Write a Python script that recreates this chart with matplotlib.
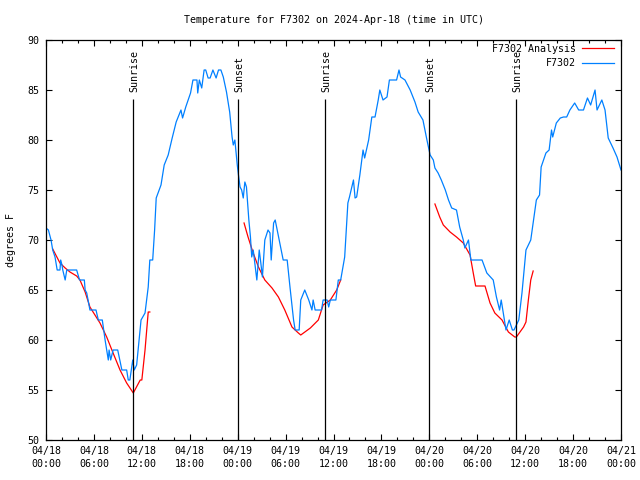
import matplotlib
matplotlib.use("Agg")
import matplotlib.pyplot as plt
import numpy as np

# ---- data (hours since 2024-04-18 00:00 UTC) ----
obs_hours = [0.0, 0.3, 0.63, 0.84, 1.13, 1.4, 1.75, 1.84, 2.0, 2.1, 2.4, 2.6, 3.84, 4.2, 4.8, 4.9, 5.1,
             5.5, 6.26, 6.55, 7.05, 7.4, 7.8, 7.9, 8.1, 8.4, 8.98, 9.5, 10.1, 10.3, 10.5, 10.86, 11.05,
             11.35, 11.6, 11.9, 12.4, 12.8, 13.0, 13.36, 13.6, 13.8, 14.4, 14.8, 15.3, 15.8, 16.3, 16.9,
             17.1, 17.5, 18.1, 18.4, 18.9, 19.0, 19.2, 19.5, 19.8, 20.0, 20.3, 20.55, 20.9, 21.3, 21.6,
             21.9, 22.2, 22.6, 23.0, 23.3, 23.45, 23.65, 23.95, 24.1, 24.3, 24.5, 24.7, 24.9, 25.1, 25.4,
             25.6, 25.76, 25.95, 26.4, 26.6, 26.7, 26.9, 27.1, 27.4, 27.8, 28.05, 28.2, 28.5, 28.7, 29.2,
             29.7, 30.2, 30.55, 31.0, 31.2, 31.7, 31.9, 32.4, 32.9, 33.3, 33.45, 33.7, 34.5, 34.7, 35.2,
             35.4, 35.6, 36.3, 36.6, 36.9, 37.4, 37.8, 38.0, 38.5, 38.7, 38.9, 39.3, 39.7, 39.9, 40.4,
             40.8, 41.2, 41.6, 41.8, 42.2, 42.7, 43.0, 43.9, 44.2, 44.4, 44.95, 45.6, 46.2, 46.6, 47.2,
             47.7, 48.1, 48.5, 48.7, 49.1, 49.5, 50.0, 50.4, 50.8, 51.4, 51.8, 52.25, 52.45, 52.9, 53.2,
             54.6, 55.2, 56.0, 56.4, 56.8, 57.0, 57.2, 57.6, 58.0, 58.4, 58.6, 59.2, 59.6, 60.1, 60.7,
             61.0, 61.4, 61.8, 62.0, 62.6, 63.0, 63.3, 63.45, 63.9, 64.4, 64.8, 65.2, 65.6, 66.2, 66.7,
             67.3, 67.8, 68.2, 68.75, 69.0, 69.6, 70.0, 70.4, 71.0, 71.5, 72.0]
obs_temps = [71.2, 71.0, 70.0, 69.0, 68.3, 67.0, 67.0, 68.0, 67.5, 67.0, 66.0, 67.0, 67.0, 66.0, 66.0, 65.0, 64.7,
             63.0, 63.0, 62.0, 62.0, 60.0, 58.0, 59.0, 58.0, 59.0, 59.0, 57.0, 57.0, 56.0, 56.0, 58.0, 57.0,
             57.5, 59.5, 62.0, 62.7, 65.3, 68.0, 68.0, 71.0, 74.2, 75.5, 77.5, 78.5, 80.2, 81.8, 83.0,
             82.2, 83.3, 84.7, 86.0, 86.0, 84.7, 86.0, 85.2, 87.0, 87.0, 86.2, 86.2, 87.0, 86.2, 87.0,
             87.0, 86.3, 84.8, 82.8, 80.3, 79.5, 80.0, 77.5, 76.5, 75.3, 75.0, 74.2, 75.8, 75.3, 72.0,
             70.3, 68.3, 69.0, 66.0, 68.0, 69.0, 67.7, 66.3, 70.0, 71.0, 70.7, 68.0, 71.7, 72.0, 70.0,
             68.0, 68.0, 65.3, 62.0, 61.0, 61.0, 64.0, 65.0, 64.0, 63.0, 64.0, 63.0, 63.0, 64.0, 64.0,
             63.3, 64.0, 64.0, 66.0, 66.0, 68.3, 73.7, 74.3, 76.0, 74.2, 74.3, 76.5, 79.0, 78.2, 80.0,
             82.3, 82.3, 84.0, 85.0, 84.0, 84.3, 86.0, 86.0, 87.0, 86.3, 86.0, 85.0, 83.8, 82.8, 82.0,
             80.0, 78.5, 78.0, 77.2, 76.7, 76.0, 75.0, 74.0, 73.2, 73.0, 71.3, 70.0, 69.2, 70.0, 68.0,
             68.0, 66.7, 66.0, 64.3, 63.0, 64.0, 63.0, 61.0, 62.0, 61.0, 61.0, 62.0, 64.7, 69.0, 70.0,
             71.7, 74.0, 74.5, 77.3, 78.7, 79.0, 81.0, 80.3, 81.7, 82.2, 82.3, 82.3, 83.0, 83.7, 83.0,
             83.0, 84.2, 83.5, 85.0, 83.0, 84.0, 83.0, 80.2, 79.2, 78.3, 77.0]

ana1_hours = [0.84, 1.75, 2.4, 3.0, 3.84, 4.25, 4.9, 5.5, 6.76, 7.6, 8.4, 9.27, 10.1, 10.93, 11.8, 12.0, 12.4, 12.8, 13.0]
ana1_temps = [69.1, 67.7, 67.2, 66.8, 66.4, 66.0, 64.8, 63.3, 61.7, 60.3, 58.7, 57.0, 55.7, 54.7, 56.0, 56.0, 59.0, 62.8, 62.8]
ana2_hours = [24.8, 25.3, 25.9, 26.6, 27.4, 28.3, 29.1, 29.9, 30.8, 31.6, 31.9, 33.1, 34.1, 34.7, 35.6, 36.4, 36.9]
ana2_temps = [71.7, 70.3, 68.8, 67.3, 66.0, 65.2, 64.3, 63.0, 61.3, 60.7, 60.5, 61.2, 62.0, 63.5, 64.0, 65.0, 66.0]
ana3_hours = [48.7, 49.3, 49.75, 50.6, 51.4, 52.25, 53.1, 53.5, 53.8, 54.97, 55.6, 56.2, 57.1, 57.9, 58.7, 58.9, 59.8, 60.1, 60.4, 60.7, 61.0]
ana3_temps = [73.6, 72.3, 71.5, 70.8, 70.3, 69.7, 68.5, 66.7, 65.4, 65.4, 63.7, 62.7, 62.0, 60.8, 60.3, 60.3, 61.3, 61.8, 64.0, 66.0, 66.9]

sun_hours = [10.9, 24.04, 34.94, 47.96, 58.85]
sun_labels = ["Sunrise", "Sunset", "Sunrise", "Sunset", "Sunrise"]

xtick_hours = [0, 6, 12, 18, 24, 30, 36, 42, 48, 54, 60, 66, 72]
xtick_labels = ["04/18\n00:00", "04/18\n06:00", "04/18\n12:00", "04/18\n18:00",
                "04/19\n00:00", "04/19\n06:00", "04/19\n12:00", "04/19\n18:00",
                "04/20\n00:00", "04/20\n06:00", "04/20\n12:00", "04/20\n18:00",
                "04/21\n00:00"]
yticks = [50, 55, 60, 65, 70, 75, 80, 85, 90]

# ---- figure ----
plt.rcParams['font.family'] = ['DejaVu Sans Mono']
FS = 7.2
fig = plt.figure(figsize=(6.4, 4.8), dpi=100)
ax = fig.add_axes([46/640, 1-440/480, 575/640, 400/480])

BLUE = '#0080ff'
RED = '#ff0000'

ax.plot(ana1_hours, ana1_temps, color=RED, lw=0.9, label='F7302 Analysis')
ax.plot(ana2_hours, ana2_temps, color=RED, lw=0.9)
ax.plot(ana3_hours, ana3_temps, color=RED, lw=0.9)
ax.plot(obs_hours, obs_temps, color=BLUE, lw=0.9, label='F7302')

for h, lab in zip(sun_hours, sun_labels):
    ax.vlines(h, 50, 84.1, color='black', lw=0.9)
    ax.text(h + 0.15, 84.8, lab, rotation=90, ha='center', va='bottom', fontsize=FS)

ax.set_xlim(0, 72)
ax.set_ylim(50, 90)
ax.set_xticks(xtick_hours)
ax.set_xticklabels(xtick_labels)
ax.set_xticks(np.arange(0, 73, 2), minor=True)
ax.set_yticks(yticks)
ax.tick_params(axis='both', which='both', direction='in', top=True, right=True,
               labelsize=FS, width=0.8)
ax.tick_params(axis='both', which='major', length=4.5)
ax.tick_params(axis='x', which='minor', length=2.5)
ax.tick_params(axis='y', which='major', pad=5)
ax.tick_params(axis='x', which='major', pad=4)
for lbl in ax.get_xticklabels():
    lbl.set_linespacing(1.45)
for s in ax.spines.values():
    s.set_linewidth(0.9)

ax.set_ylabel('degrees F', fontsize=FS)
ax.yaxis.set_label_coords(-0.053, 0.5)

fig.text(333.5/640, 1-20/480, 'Temperature for F7302 on 2024-Apr-18 (time in UTC)',
         ha='center', va='center', fontsize=FS)

ax.legend(loc='upper right', bbox_to_anchor=(1.0, 1.008), markerfirst=False, frameon=False,
          fontsize=FS, handlelength=3.2, handletextpad=0.6, labelspacing=0.45, borderaxespad=0.3)

fig.savefig('out.png', dpi=100)
